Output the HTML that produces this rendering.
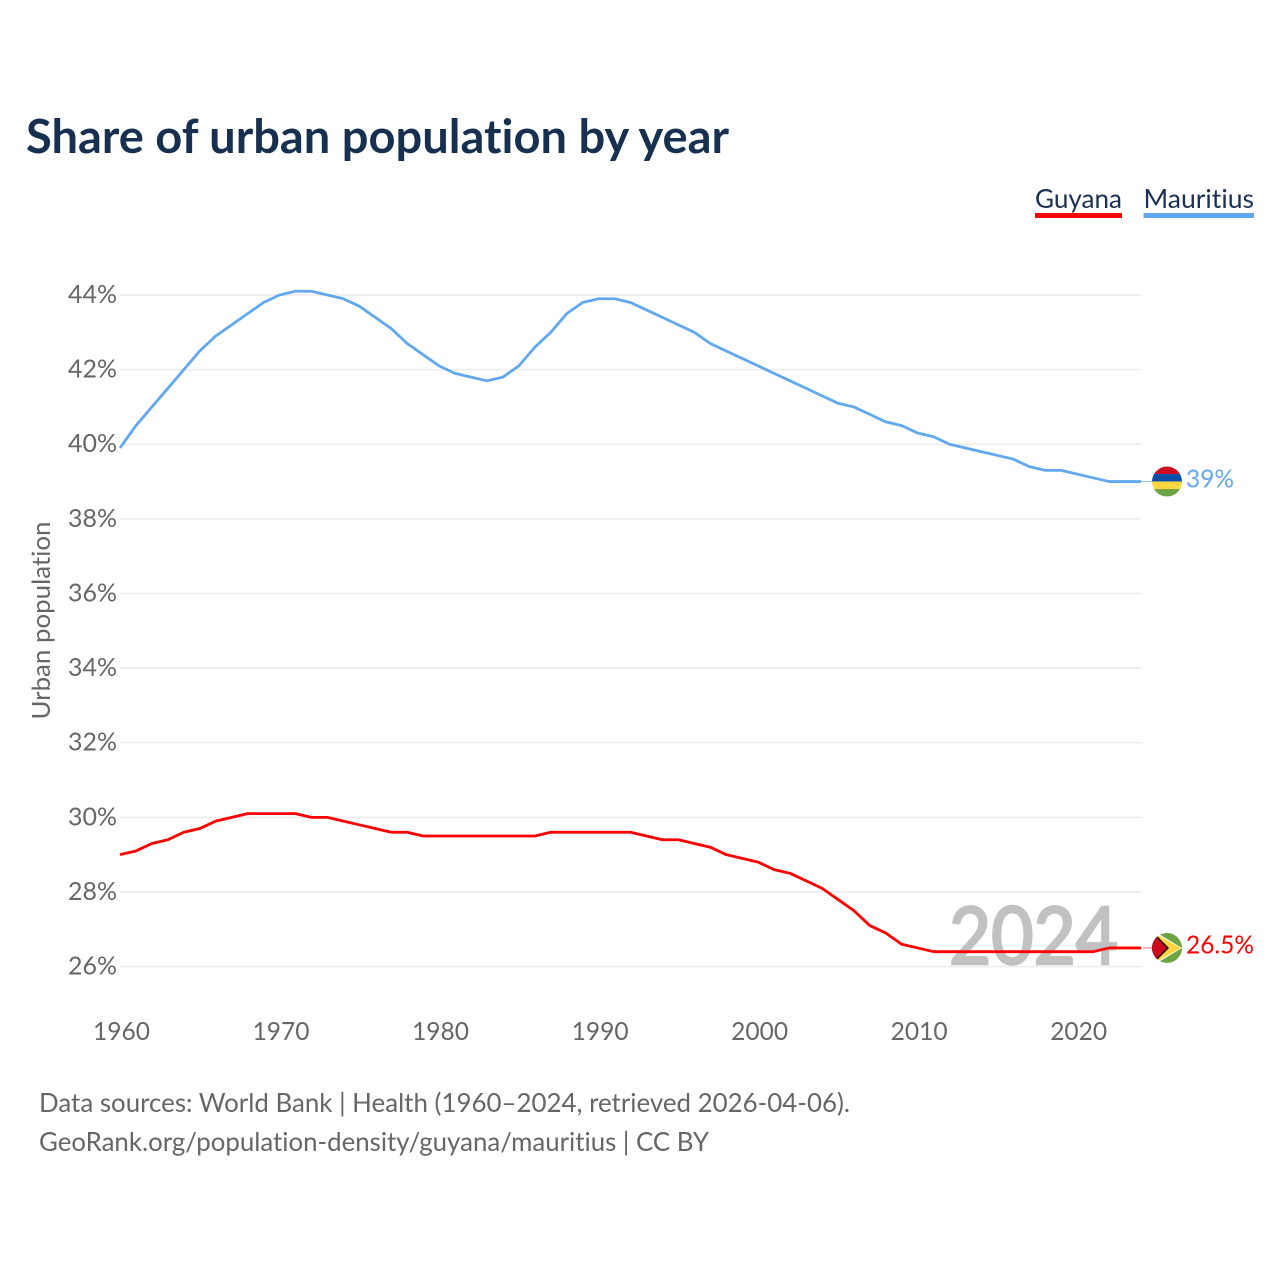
<!DOCTYPE html>
<html lang="en">
<head>
<meta charset="utf-8">
<title>Share of urban population by year</title>
<style>
html,body{margin:0;padding:0;background:#fff;}
svg{display:block;font-family:"Lato","Carlito","Liberation Sans",sans-serif;font-variant-ligatures:none;}
text{font-variant-ligatures:none;font-feature-settings:"liga" 0,"clig" 0;}
</style>
</head>
<body>
<svg id="chart" width="1280" height="1280" viewBox="0 0 1280 1280" xmlns="http://www.w3.org/2000/svg">
  <defs>
    <clipPath id="flag-clip-m"><circle cx="0" cy="0" r="15"></circle></clipPath>
    <clipPath id="flag-clip-g"><circle cx="0" cy="0" r="15"></circle></clipPath>
  </defs>
  <text x="26" y="153" font-size="47" font-weight="700" fill="#17304f" textLength="703" lengthAdjust="spacingAndGlyphs">Share of urban population by year</text>

  <g>
    <text x="1035" y="208" font-size="26" fill="#1a3055" textLength="87" lengthAdjust="spacingAndGlyphs">Guyana</text>
    <rect x="1035" y="213" width="87" height="5" fill="#ff0000"></rect>
  </g>
  <g>
    <text x="1143.5" y="208" font-size="26" fill="#1a3055" textLength="110.5" lengthAdjust="spacingAndGlyphs">Mauritius</text>
    <rect x="1143.5" y="213" width="110.5" height="5" fill="#62a8ee"></rect>
  </g>

  <g id="grid"></g>
  <g id="y-ticks"></g>
  <g id="x-ticks"></g>

  <text transform="translate(50,620.5) rotate(-90)" text-anchor="middle" font-size="25" fill="#666666" textLength="198" lengthAdjust="spacingAndGlyphs">Urban population</text>

  <text x="949" y="964" font-size="80" font-weight="400" fill="#c1c1c1" stroke="#c1c1c1" stroke-width="2.6" textLength="169" lengthAdjust="spacingAndGlyphs">2024</text>

  <g id="series"></g>
  <g id="ends"></g>

  <text x="39" y="1112" font-size="26" fill="#666666" textLength="811" lengthAdjust="spacingAndGlyphs">Data sources: World Bank | Health (1960–2024, retrieved 2026-04-06).</text>
  <text x="39" y="1151" font-size="26" fill="#666666" textLength="670" lengthAdjust="spacingAndGlyphs">GeoRank.org/population-density/guyana/mauritius | CC BY</text>
</svg>
<script>
const years = [1960,1961,1962,1963,1964,1965,1966,1967,1968,1969,1970,1971,1972,1973,1974,1975,1976,1977,1978,1979,1980,1981,1982,1983,1984,1985,1986,1987,1988,1989,1990,1991,1992,1993,1994,1995,1996,1997,1998,1999,2000,2001,2002,2003,2004,2005,2006,2007,2008,2009,2010,2011,2012,2013,2014,2015,2016,2017,2018,2019,2020,2021,2022,2023,2024];
const mauritius = [39.9,40.5,41.0,41.5,42.0,42.5,42.9,43.2,43.5,43.8,44.0,44.1,44.1,44.0,43.9,43.7,43.4,43.1,42.7,42.4,42.1,41.9,41.8,41.7,41.8,42.1,42.6,43.0,43.5,43.8,43.9,43.9,43.8,43.6,43.4,43.2,43.0,42.7,42.5,42.3,42.1,41.9,41.7,41.5,41.3,41.1,41.0,40.8,40.6,40.5,40.3,40.2,40.0,39.9,39.8,39.7,39.6,39.4,39.3,39.3,39.2,39.1,39.0,39.0,39.0];
const guyana = [29.0,29.1,29.3,29.4,29.6,29.7,29.9,30.0,30.1,30.1,30.1,30.1,30.0,30.0,29.9,29.8,29.7,29.6,29.6,29.5,29.5,29.5,29.5,29.5,29.5,29.5,29.5,29.6,29.6,29.6,29.6,29.6,29.6,29.5,29.4,29.4,29.3,29.2,29.0,28.9,28.8,28.6,28.5,28.3,28.1,27.8,27.5,27.1,26.9,26.6,26.5,26.4,26.4,26.4,26.4,26.4,26.4,26.4,26.4,26.4,26.4,26.4,26.5,26.5,26.5];
const yTickValues = [26,28,30,32,34,36,38,40,42,44];
const xTickValues = [1960,1970,1980,1990,2000,2010,2020];

const NS = 'http://www.w3.org/2000/svg';
function xScale(year){ return 120 + (year - 1960) * (1141 - 120) / (2024 - 1960); }
function yScale(v){ return 295 + (44 - v) * (966.6 - 295) / 18; }
function make(tag, attrs, parent){
  const el = document.createElementNS(NS, tag);
  for (const k in attrs) el.setAttribute(k, attrs[k]);
  parent.appendChild(el);
  return el;
}

const grid = document.getElementById('grid');
const yTicks = document.getElementById('y-ticks');
yTickValues.forEach(function(v){
  const line = make('line', {x1:120, x2:1141, y1:yScale(v), y2:yScale(v), stroke:'#ececec', 'stroke-width':1.5}, grid);
  
  
  const t = make('text', {x:68, y:yScale(v)+8, 'font-size':25, fill:'#666666', textLength:49, lengthAdjust:'spacingAndGlyphs'}, yTicks);
  
  
  t.textContent = v + '%';
});

const xTicks = document.getElementById('x-ticks');
xTickValues.forEach(function(yr){
  const t = make('text', {x:xScale(yr)+1.5-28.5, y:1040, 'font-size':25, fill:'#666666', textLength:57, lengthAdjust:'spacingAndGlyphs'}, xTicks);
  
  
  t.textContent = yr;
});

function linePath(values){
  return values.map(function(v,i){
    return (i ? 'L' : 'M') + xScale(years[i]).toFixed(2) + ' ' + yScale(v).toFixed(2);
  }).join('');
}
const seriesGroup = document.getElementById('series');
const mLine = make('path', {d:linePath(mauritius), fill:'none', stroke:'#62a8ee', 'stroke-width':2.8, 'stroke-linejoin':'round'}, seriesGroup);


const gLine = make('path', {d:linePath(guyana), fill:'none', stroke:'#ff0000', 'stroke-width':2.8, 'stroke-linejoin':'round'}, seriesGroup);



const ends = document.getElementById('ends');
function lastOf(a){ return a[a.length - 1]; }

/* Mauritius end marker */
const mY = yScale(lastOf(mauritius));
const mLead = make('line', {x1:1141, x2:1152, y1:mY, y2:mY, stroke:'#62a8ee', 'stroke-width':1, opacity:0.7}, ends);


const mFlag = make('g', {transform:'translate(1167,' + mY + ')', 'clip-path':'url(#flag-clip-m)'}, ends);


make('rect', {x:-15, y:-15, width:30, height:7.5, fill:'#cc0a20'}, mFlag);
make('rect', {x:-15, y:-7.5, width:30, height:7.5, fill:'#0b4fa8'}, mFlag);
make('rect', {x:-15, y:0, width:30, height:7.5, fill:'#ffd640'}, mFlag);
make('rect', {x:-15, y:7.5, width:30, height:7.5, fill:'#6da544'}, mFlag);
const mLabel = make('text', {x:1186, y:mY+6, 'font-size':25, fill:'#62a8ee', textLength:48, lengthAdjust:'spacingAndGlyphs'}, ends);


mLabel.textContent = lastOf(mauritius) + '%';

/* Guyana end marker */
const gY = yScale(lastOf(guyana));
const gLead = make('line', {x1:1143, x2:1152, y1:gY, y2:gY, stroke:'#ff0000', 'stroke-width':1, opacity:0.6}, ends);


const gFlag = make('g', {transform:'translate(1167,' + gY + ')', 'clip-path':'url(#flag-clip-g)'}, ends);


make('rect', {x:-15, y:-15, width:30, height:30, fill:'#6da544'}, gFlag);
make('polygon', {points:'-15,-18 15,0 -15,18', fill:'#ffffff'}, gFlag);
make('polygon', {points:'-15,-16 14,0 -15,16', fill:'#ffd640'}, gFlag);
make('polygon', {points:'-15,-17 2,0 -15,17', fill:'#111111'}, gFlag);
make('polygon', {points:'-15,-15 0,0 -15,15', fill:'#cc0a20'}, gFlag);
const gLabel = make('text', {x:1186, y:gY+5.5, 'font-size':25, fill:'#ff0000', textLength:68, lengthAdjust:'spacingAndGlyphs'}, ends);


gLabel.textContent = lastOf(guyana) + '%';
</script>
</body>
</html>
